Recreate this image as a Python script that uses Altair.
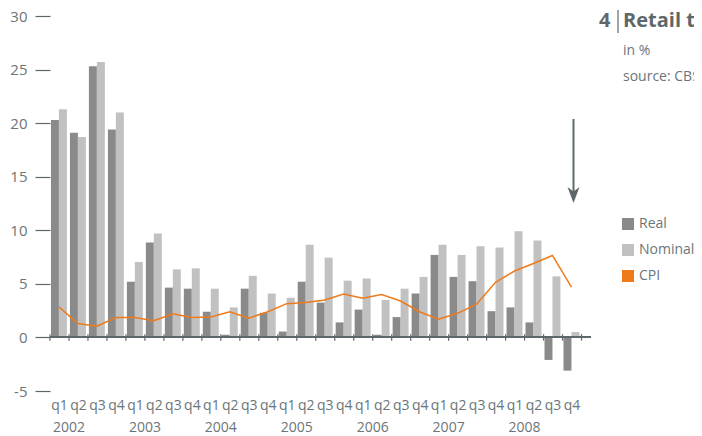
import altair as alt
import pandas as pd

quarters = ["q1", "q2", "q3", "q4"]
years = ["2002", "2003", "2004", "2005", "2006", "2007", "2008"]
real = [20.3, 19.1, 25.3, 19.4, 5.2, 8.85, 4.65, 4.55, 2.4, 0.25, 4.55, 2.3,
        0.55, 5.2, 3.25, 1.4, 2.6, 0.25, 1.9, 4.1, 7.7, 5.65, 5.25, 2.45,
        2.8, 1.4, -2.1, -3.1]
nominal = [21.3, 18.7, 25.7, 21.0, 7.05, 9.7, 6.35, 6.45, 4.55, 2.8, 5.75, 4.1,
           3.7, 8.65, 7.45, 5.3, 5.5, 3.5, 4.55, 5.65, 8.65, 7.7, 8.5, 8.4,
           9.9, 9.05, 5.7, 0.5]
cpi = [2.85, 1.3, 1.05, 1.85, 1.85, 1.55, 2.2, 1.85, 1.9, 2.4, 1.8, 2.4,
       3.15, 3.25, 3.5, 4.05, 3.65, 4.0, 3.4, 2.4, 1.7, 2.25, 3.1, 5.15,
       6.2, 6.9, 7.65, 4.7]
series_names = ["Real", "Nominal", "CPI"]
series_colors = ["#8a8a8a", "#c1c1c1", "#ef7a1a"]
y_ticks = [-5, 0, 5, 10, 15, 20, 25, 30]

title_num = "4"
title_text = "Retail trade"
subtitle_1 = "in %"
subtitle_2 = "source: CBS"

TEXT = "#6b7577"
DARK = "#5e686a"
FONT = "Open Sans"

n = len(real)
df = pd.DataFrame({
    "i": list(range(n)),
    "q": [q for y in years for q in quarters],
    "year": [y for y in years for q in quarters],
    "Real": real,
    "Nominal": nominal,
    "CPI": cpi,
})
bounds = pd.DataFrame({"b": list(range(n + 1))})

xscale = alt.Scale(domain=[0, 28.5], nice=False, zero=False)
yscale = alt.Scale(domain=[-5, 30], nice=False, zero=False)
cscale = alt.Scale(domain=series_names, range=series_colors)

base = alt.Chart(df)

bars = base.transform_fold(["Real", "Nominal"], as_=["series", "value"]).transform_calculate(
    x0="datum.i + (datum.series == 'Real' ? 0.05 : 0.47)",
    x1="datum.i + (datum.series == 'Real' ? 0.47 : 0.89)",
).mark_rect().encode(
    x=alt.X("x0:Q", scale=xscale, axis=None),
    x2="x1:Q",
    y=alt.Y("value:Q", scale=yscale, axis=alt.Axis(
        values=y_ticks, domain=False, grid=False, tickSize=15, tickWidth=1.2,
        tickColor=DARK, labelPadding=8, labelFontSize=15, labelColor=TEXT,
        labelFont=FONT, title=None, labelExpr="'' + datum.value")),
    y2=alt.datum(0),
    color=alt.Color("series:N", scale=cscale, legend=alt.Legend(
        orient="none", legendX=571, legendY=201, symbolType="square",
        symbolSize=144, symbolStrokeWidth=0, labelFontSize=14, labelColor=TEXT,
        labelFont=FONT, title=None, rowPadding=12, labelOffset=4, labelLimit=300)),
)

line = base.transform_calculate(
    xc="datum.i + 0.47", s="'CPI'"
).mark_line(strokeWidth=1.5).encode(
    x=alt.X("xc:Q", scale=xscale),
    y=alt.Y("CPI:Q", scale=yscale),
    color=alt.Color("s:N", scale=cscale),
)

axis_line = base.mark_rule(color=DARK, strokeWidth=1.2).encode(
    x=alt.datum(0), x2=alt.datum(28.5), y=alt.datum(0)
)

ticks = alt.Chart(bounds).mark_rule(color=DARK, strokeWidth=1.2).encode(
    x=alt.X("b:Q", scale=xscale), y=alt.datum(-0.3), y2=alt.datum(0.3)
)

qlabels = base.transform_calculate(xq="datum.i + 0.5").mark_text(
    font=FONT, fontSize=14, color=TEXT, baseline="middle"
).encode(x=alt.X("xq:Q", scale=xscale), y=alt.value(390), text="q:N")

ylabels = base.transform_filter("datum.q == 'q1'").transform_calculate(
    xy="datum.i + 1").mark_text(
    font=FONT, fontSize=14, color=TEXT, baseline="middle"
).encode(x=alt.X("xy:Q", scale=xscale), y=alt.value(412), text="year:N")

one = alt.Chart(pd.DataFrame({"k": [0]}))
t_num = one.mark_text(text=title_num, font=FONT, fontSize=20, fontWeight="bold",
                      color=DARK, align="left", baseline="alphabetic").encode(
    x=alt.value(549), y=alt.value(11))
t_bar = one.mark_rule(color=DARK, strokeWidth=1.2).encode(
    x=alt.value(568), y=alt.value(-6), y2=alt.value(17))
t_txt = one.mark_text(text=title_text, font=FONT, fontSize=20, fontWeight="bold",
                      color=DARK, align="left", baseline="alphabetic").encode(
    x=alt.value(573), y=alt.value(11))
s1 = one.mark_text(text=subtitle_1, font=FONT, fontSize=14, color=TEXT,
                   align="left", baseline="middle").encode(
    x=alt.value(573), y=alt.value(35))
s2 = one.mark_text(text=subtitle_2, font=FONT, fontSize=14, color=TEXT,
                   align="left", baseline="middle").encode(
    x=alt.value(573), y=alt.value(61))

arrow_shaft = one.mark_rule(color=DARK, strokeWidth=2).encode(
    x=alt.value(523.5), y=alt.value(103), y2=alt.value(180))
arrow_head = one.mark_point(shape="M-1,-1.33L0,1.33L1,-1.33L0,-0.6Z", filled=True,
                            size=144, color=DARK, opacity=1).encode(
    x=alt.value(523.5), y=alt.value(179))

chart = alt.layer(
    bars, line, axis_line, ticks, qlabels, ylabels,
    t_num, t_bar, t_txt, s1, s2, arrow_shaft, arrow_head
).properties(
    width=541, height=375,
    autosize=alt.AutoSizeParams(type="none"),
    padding={"left": 42, "top": 8, "right": 103, "bottom": 44},
).configure_view(stroke=None)

chart.save("out.html", embed_options={"renderer": "svg", "actions": False})
